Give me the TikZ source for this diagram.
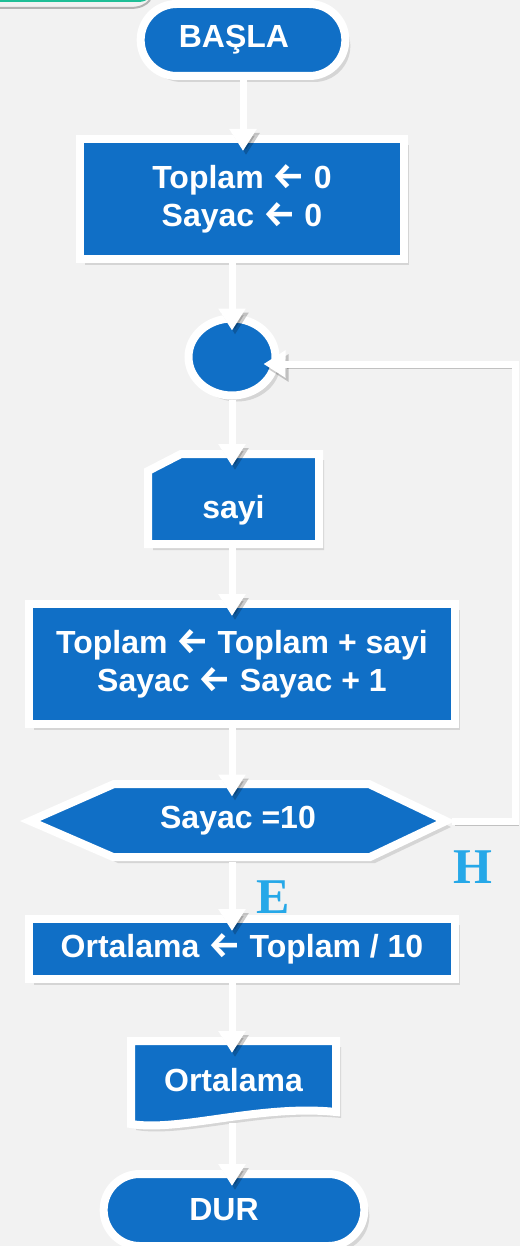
\documentclass[tikz,border=0pt]{standalone}
\usepackage{fontspec}
\setmainfont{Liberation Sans}
\newfontfamily\harfyazi{Liberation Serif}
\newfontfamily\okyazi{Fira Sans}
\newcommand{\sol}{{\okyazi\fontsize{18}{19}\selectfont ←}}
\usetikzlibrary{shapes.geometric,shapes.misc,arrows.meta,shadows}
\definecolor{mavi}{RGB}{16,111,198}
\definecolor{zemin}{RGB}{242,242,242}
\definecolor{acikmavi}{RGB}{38,168,232}
\definecolor{yesil}{RGB}{30,190,150}
\tikzset{
    sekil/.style={fill=mavi, draw=white, line width=4pt, text=white,
        font=\fontsize{16}{19}\selectfont\bfseries, align=center,
        drop shadow={shadow xshift=2.5pt, shadow yshift=-3pt, opacity=.25}},
    ok/.style={draw=white, line width=3.5pt, -{Triangle[width=13pt,length=11pt]},
        shorten >=-8pt,
        preaction={draw=black, opacity=.2, transform canvas={xshift=1.5pt,yshift=-2pt}}}
}

\begin{document}
\begin{tikzpicture}[x=0.5pt, y=-0.5pt]
\tikzstyle{yer}=[inner sep=0pt, outer sep=0pt, text=white,
    font=\fontsize{16}{19}\selectfont\bfseries, align=center]
\tikzstyle{etiket}=[font=\harfyazi\bfseries\fontsize{25}{25}\selectfont, text=acikmavi]

\path[use as bounding box, fill=zemin] (0,0) rectangle (520,1246);
\fill[yesil] (0,-2) -- (0,2) -- (138,2) .. controls (144,2) and (147,0) .. (149,-2) -- cycle;
\draw[black!30, line width=1pt] (0,8) -- (130,8) .. controls (140,8) and (146,5) .. (150,0);

\filldraw[sekil] (148,544) -- (148,471) -- (181,454) -- (319,454) -- (319,544) -- cycle;
\filldraw[sekil] (30,821) -- (114,784) -- (369,784) -- (446,821) -- (370,857) -- (113,857) -- cycle;
\filldraw[sekil] (131,1041) -- (336,1041) -- (336,1112)
    .. controls (260,1104) and (180,1132) .. (131,1124) -- cycle;

\node[sekil, rounded rectangle, minimum width=109pt, minimum height=36pt] (basla) at (243,40) {BAŞLA\hspace{9pt}};
\node[sekil, minimum width=162pt, minimum height=60pt] (ilk) at (242,199) {Toplam \sol{} 0\\Sayac \sol{} 0};
\node[sekil, ellipse, inner sep=0pt, minimum width=43.5pt, minimum height=38.5pt] (dongu) at (232,357) {};
\node[yer, minimum width=89.5pt, minimum height=49pt, text height=19pt, text depth=0pt] (giris) at (233.5,499) {sayi};
\node[sekil, minimum width=213pt, minimum height=60pt] (islem) at (242,664) {Toplam \sol{} Toplam + sayi\\Sayac \sol{} Sayac + 1};
\node[yer, minimum width=214pt, minimum height=40.5pt] (karar) at (238,821) {Sayac =10};
\node[sekil, minimum width=213pt, minimum height=30pt] (ortalama) at (242,949) {Ortalama \sol{} Toplam / 10};
\node[yer, minimum width=106.5pt, minimum height=43pt] (cikti) at (233.5,1080) {Ortalama};
\node[sekil, rounded rectangle, minimum width=137pt, minimum height=36pt] (dur) at (234,1210) {DUR\hspace{10pt}};

\node[etiket] (evet) at (273,897) {E};
\node[etiket] (hayir) at (473,867) {H};

\draw[ok] (basla.south) -- (basla.south |- ilk.north);
\draw[ok] (ilk.south -| dongu) -- (dongu.north);
\draw[ok] (dongu.south) -- (dongu.south |- giris.north);
\draw[ok] (giris.south -| dongu) -- (islem.north -| dongu);
\draw[ok] (islem.south -| dongu) -- (karar.north -| dongu);
\draw[ok] (karar.south -| dongu) -- (ortalama.north -| dongu);
\draw[ok] (ortalama.south -| dongu) -- (cikti.north -| dongu);
\draw[ok] (cikti.south -| dongu) -- (dur.north -| dongu);
\draw[ok] (karar.east) -- ++(63,0) |- ([yshift=-3.5pt]dongu.east);
\end{tikzpicture}
\end{document}
